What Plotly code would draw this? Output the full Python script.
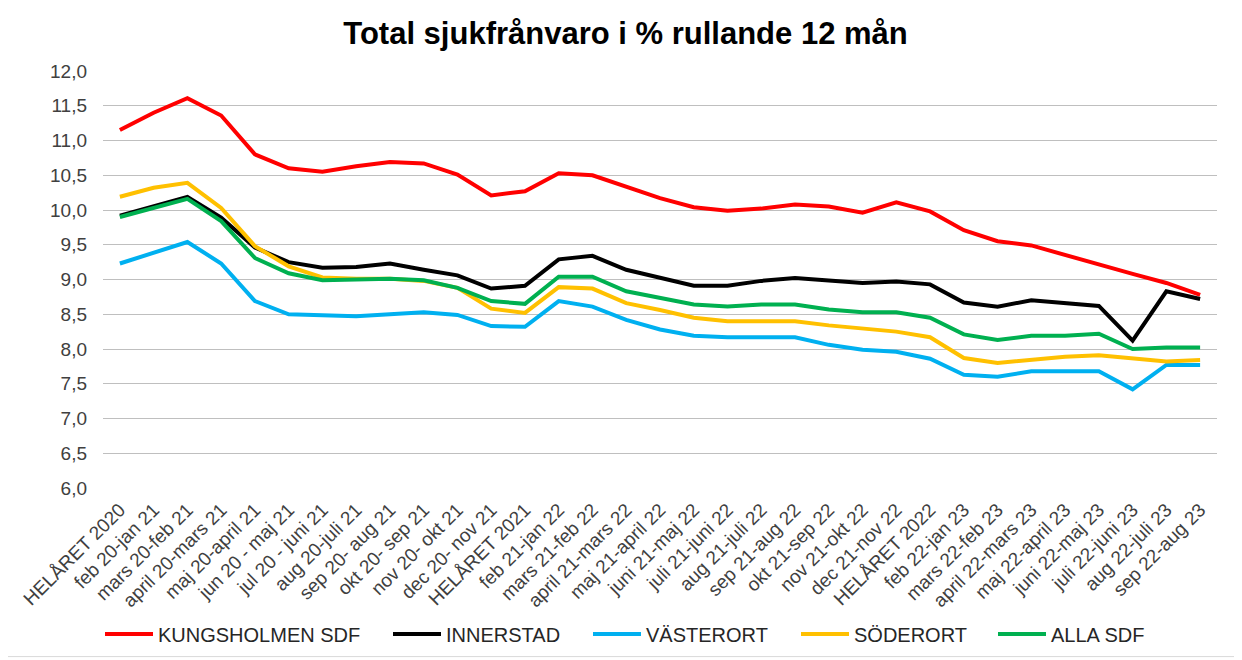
import plotly.graph_objects as go

categories = [
    "HELÅRET 2020", "feb 20-jan 21", "mars 20-feb 21", "april 20-mars 21",
    "maj 20-april 21", "jun 20 - maj 21", "jul 20 - juni 21", "aug 20-juli 21",
    "sep 20- aug 21", "okt 20- sep 21", "nov 20- okt 21", "dec 20- nov 21",
    "HELÅRET 2021", "feb 21-jan 22", "mars 21-feb 22", "april 21-mars 22",
    "maj 21-april 22", "juni 21-maj 22", "juli 21-juni 22", "aug 21-juli 22",
    "sep 21-aug 22", "okt 21-sep 22", "nov 21-okt 22", "dec 21-nov 22",
    "HELÅRET 2022", "feb 22-jan 23", "mars 22-feb 23", "april 22-mars 23",
    "maj 22-april 23", "juni 22-maj 23", "juli 22-juni 23", "aug 22-juli 23",
    "sep 22-aug 23",
]

kungsholmen = [11.15, 11.40, 11.61, 11.36, 10.80, 10.60, 10.55, 10.63, 10.69, 10.67, 10.51,
               10.21, 10.27, 10.53, 10.50, 10.34, 10.17, 10.04, 9.99, 10.02, 10.08, 10.05,
               9.96, 10.11, 9.98, 9.71, 9.55, 9.49, 9.35, 9.22, 9.08, 8.95, 8.78]
innerstad = [9.92, 10.06, 10.19, 9.89, 9.46, 9.25, 9.17, 9.18, 9.23, 9.14, 9.06,
             8.87, 8.91, 9.29, 9.34, 9.14, 9.02, 8.91, 8.91, 8.98, 9.02, 8.98,
             8.95, 8.97, 8.93, 8.67, 8.61, 8.70, 8.66, 8.62, 8.12, 8.83, 8.72]
vasterort = [9.23, 9.39, 9.54, 9.23, 8.69, 8.50, 8.49, 8.47, 8.50, 8.53, 8.49,
             8.33, 8.32, 8.69, 8.61, 8.42, 8.28, 8.19, 8.17, 8.17, 8.17, 8.06,
             7.99, 7.96, 7.86, 7.63, 7.60, 7.68, 7.68, 7.68, 7.42, 7.77, 7.77]
soderort = [10.19, 10.32, 10.39, 10.03, 9.48, 9.19, 9.03, 9.01, 9.01, 8.98, 8.88,
            8.58, 8.52, 8.89, 8.87, 8.66, 8.56, 8.45, 8.40, 8.40, 8.40, 8.34,
            8.29, 8.25, 8.17, 7.87, 7.80, 7.85, 7.89, 7.91, 7.86, 7.82, 7.84]
alla_sdf = [9.90, 10.03, 10.16, 9.84, 9.31, 9.09, 8.99, 9.00, 9.01, 8.99, 8.88,
            8.69, 8.65, 9.04, 9.04, 8.83, 8.73, 8.64, 8.61, 8.64, 8.64, 8.57,
            8.53, 8.53, 8.45, 8.21, 8.13, 8.19, 8.19, 8.22, 8.00, 8.02, 8.02]

series = [
    ("KUNGSHOLMEN SDF", kungsholmen, "#FF0000"),
    ("INNERSTAD", innerstad, "#000000"),
    ("VÄSTERORT", vasterort, "#00B0F0"),
    ("SÖDERORT", soderort, "#FFC000"),
    ("ALLA SDF", alla_sdf, "#00B050"),
]

# Page offset (body margin) and figure size
OFF = 8
W, H = 1234, 652

# Left page-x of each legend entry
legend_x_page = [107, 395, 595, 803, 1000]

FONT = "Liberation Sans, Arial, sans-serif"

fig = go.Figure()
legend_layouts = {}
for i, (name, vals, color) in enumerate(series):
    lname = "legend" if i == 0 else f"legend{i + 1}"
    fig.add_trace(go.Scatter(
        x=categories, y=vals, name=name, mode="lines",
        line=dict(color=color, width=4), legend=lname, showlegend=True,
    ))
    legend_layouts[lname] = dict(
        orientation="h",
        xref="container", x=(legend_x_page[i] - OFF - 7) / W, xanchor="left",
        yref="container", y=1 - (634 - OFF) / H, yanchor="middle",
        font=dict(size=20, color="#262626", family=FONT),
        itemwidth=48, bgcolor="rgba(0,0,0,0)",
    )

fig.update_layout(
    width=W, height=H, showlegend=True,
    margin=dict(l=103 - OFF, r=W - (1217 - OFF), t=71 - OFF, b=H - (488 - OFF),
                autoexpand=False),
    paper_bgcolor="white", plot_bgcolor="white",
    separators=", ",
    font=dict(family=FONT, color="#404040"),
    title=dict(
        text="<b>Total sjukfrånvaro i % rullande 12 mån</b>",
        x=(625.5 - OFF) / W, xanchor="center",
        y=1 - (33 - OFF) / H, yanchor="middle",
        font=dict(family=FONT, size=31, color="#000000"),
    ),
    xaxis=dict(
        type="category", range=[-0.5, len(categories) - 0.5],
        tickangle=-45, tickfont=dict(size=19, color="#404040"),
        showgrid=False, showline=False, zeroline=False, ticks="",
        ticklabelstandoff=6, automargin=False,
    ),
    yaxis=dict(
        range=[6, 12], dtick=0.5, tick0=6, tickformat=".1f",
        showgrid=True, gridcolor="#BFBFBF", gridwidth=1.3,
        zeroline=False, showline=False, ticks="",
        tickfont=dict(size=19, color="#404040"),
        ticklabelstandoff=15, automargin=False,
    ),
    shapes=[dict(
        type="rect", xref="paper", yref="paper",
        x0=(5 - 103) / 1114, x1=(1238 - 103) / 1114,
        y0=(488.3 - 657) / 417.3, y1=(488.3 - 3) / 417.3,
        line=dict(color="#D9D9D9", width=1), layer="below",
    )],
    **legend_layouts,
)

fig.write_html("out.html")
